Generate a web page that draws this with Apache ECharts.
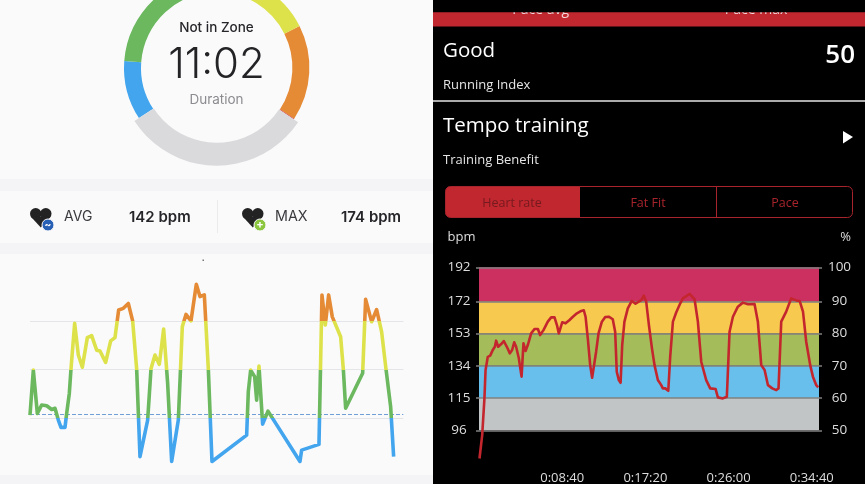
<!DOCTYPE html>
<html><head><meta charset="utf-8">
<style>html,body{margin:0;padding:0;background:#000}#c{width:865px;height:484px}</style>
<script src="https://cdn.jsdelivr.net/npm/echarts@6/dist/echarts.min.js"></script>
</head><body><div id="c"></div>
<script>
// Donut: seconds per zone, clockwise from the yellow/orange boundary
const zoneNames = ['Zone 4','Zone 5','Not in Zone','Zone 1','Zone 2','Zone 3'];
const zoneSeconds = [351,3,662,217,503,369];
const zoneColors = ['#E58B36','#CE3B3B','#DADADC','#42A5EE','#6BB85F','#DDE24A'];

// Left line chart
const leftTimes = [0,20,44,70,100,130,150,170,186,210,220,236,246,268,290,314,344,370,400,420,454,484,510,532,560,590,616,640,660,706,726,750,776,802,826,850,890,914,936,966,998,1020,1046,1070,1092,1300,1310,1324,1348,1360,1374,1396,1428,1620,1630,1734,1752,1760,1772,1792,1814,1864,1880,1894,1996,2014,2026,2050,2080,2110,2136,2164,2182];
const leftBpm = [141.8,152.9,142.2,144.3,144.1,143.2,143.5,140.6,138.8,138.8,142.2,147.2,153.2,164.4,156.6,153.6,160.9,161.4,157.8,157.6,154.8,160.1,160.9,167.7,168.1,169.3,165,153.2,131.6,140.6,153.2,156.6,154.3,163,149.6,130.4,140.6,163.6,166.6,165,174,171,171.4,153.2,130.4,136.9,147.6,152.9,151.3,145.5,153.9,139.6,142.8,130.4,133.2,134.6,171.4,171.4,164,171.4,166,161.1,153.2,143.5,152.1,170.3,170.1,164.8,167.8,162.3,153.2,143.9,131.6];
const leftZoneLines = [141,153,165];
const leftAvg = 142;

// Right line chart
const rightTimes = [3,20,34,41,55,70,86,99,107,120,139,155,174,193,207,220,232,249,266,278,291,305,326,347,368,382,403,430,451,472,487,499,520,541,566,587,612,639,655,666,680,695,707,718,732,747,768,789,811,836,851,861,874,885,895,909,930,955,978,1014,1030,1045,1062,1081,1097,1118,1139,1149,1164,1183,1195,1212,1233,1258,1274,1316,1347,1368,1389,1420,1445,1479,1493,1524,1549,1566,1587,1618,1649,1681,1722,1743,1764,1785,1806,1833,1858,1872,1889,1920,1951,1983,2004,2025,2045,2070,2087,2108,2120];
const rightBpm = [79.4,93.2,114.8,131.5,139.3,140,143.3,145.2,148.8,145.2,146.8,148.6,145.2,141.3,143.3,147.8,145.2,138.4,127.6,147.2,142.7,146.2,153.1,155.7,155.7,152.1,155,160,162.5,162.5,158,153.1,159.6,159,161,162.9,164.9,166.3,166.7,162.9,150.2,134.4,127,126,142.3,153.1,160,162.7,162.9,161.4,154.1,130.5,125.6,124,146.2,160,167.8,172.2,170.6,172.7,175.3,171.8,158,144.3,134.4,125.6,122.6,120.7,120.7,119.3,139.3,160,165.5,170.8,173.7,176.3,173.3,160,136.4,125.6,120.7,120.3,115.4,114.8,115.8,154.1,162.9,168.8,171.2,170.2,170.4,160,134.4,131.5,122.6,120.7,119.7,120.7,160,165.9,173.7,172.5,172.2,165.9,148.2,134.4,127.6,122.6,121.3];
const bpmTicks = [96,115,134,153,172,192];
const pctTicks = [50,60,70,80,90,100];
const timeTicks = [520,1040,1560,2080];
const bandColors = ['#C2C5C5','#68BFEB','#A5BC5A','#F8C94F','#CC3060'];

const fmtTime = s => { const m=Math.floor(s/60), r=s%60; return '0:'+String(m).padStart(2,'0')+':'+String(r).padStart(2,'0'); };
const zip = (a,b) => a.map((v,i)=>[v,b[i]]);
const LF = 'Inter, Roboto, sans-serif', RF = '"Open Sans", sans-serif';
const t = (text,x,y,size,color,font,align,weight,z) => ({type:'text',z:z||5,silent:true,style:{text,x,y,fontSize:size,fill:color,fontFamily:font,align:align||'center',verticalAlign:'middle',fontWeight:weight||400}});
const rect = (x,y,w,h,fill,z,r) => ({type:'rect',z:z===undefined?-5:z,silent:true,shape:{x,y,width:w,height:h,r:r||0},style:{fill}});
const plain = (cx,cy,r,fill) => ({type:'circle',z:5,silent:true,shape:{cx,cy,r},style:{fill}});
const heart = (x,y) => [plain(x+5.7,y+5.7,5.7,'#232323'),plain(x+15.8,y+5.7,5.7,'#232323'),
  {type:'polygon',z:5,silent:true,shape:{points:[[x+0.7,y+8.4],[x+20.8,y+8.4],[x+10.8,y+19.5]]},style:{fill:'#232323'}}];
const circ = (cx,cy,r,fill) => ({type:'circle',z:6,silent:true,shape:{cx,cy,r},style:{fill,stroke:'#FAFAFB',lineWidth:1}});

const graphics = [
  rect(0,0,433,484,'#FAFAFB'),
  rect(0,179,433,12,'#F4F4F6'),
  rect(0,243,433,11,'#F4F4F6'),
  rect(0,475,433,9,'#F4F4F6'),
  rect(433,0,432,484,'#000000'),
  t('Not in Zone',216.5,28,13.5,'#26262A',LF,'center',500),
  t('11:02',216.5,65.5,42,'#232326',LF,'center',300),
  t('Duration',216.5,99.5,13.5,'#8C8C90',LF),
  rect(217,200,1,33,'#EBEBED',0),
  ...heart(30,208), circ(48,225,6,'#2760B4'), t('~',48,224.5,10,'#fff',LF,'center',700,7),
  ...heart(242,208), circ(260,225,6,'#8CC63F'), t('+',260,224.5,11,'#fff',LF,'center',700,7),
  t('AVG',64,217,14,'#3A3A3E',LF,'left'),
  t('142 bpm',129,217,15,'#26262A',LF,'left',600),
  t('MAX',275,217,14.3,'#3A3A3E',LF,'left'),
  t('174 bpm',341,217,15,'#26262A',LF,'left',600),
  rect(202.5,259.5,1.5,1.5,'#777',1),

  rect(433,12,432,14.5,'#C0272F',1),
  t('Pace avg',540.7,10.5,14,'#F3D9DA',RF,'center',400,2),
  t('Pace max',756,10.5,14,'#F3D9DA',RF,'center',400,2),
  rect(433,0,432,12.3,'#000000',3),
  t('Good',443,51,20.5,'#FFFFFF',RF,'left'),
  t('50',855,56,26,'#FFFFFF',RF,'right',600),
  t('Running Index',443,85.5,13,'#E4E4E4',RF,'left'),
  rect(433,100,432,2,'#ABABAB',1),
  t('Tempo training',443,126.5,20.5,'#FFFFFF',RF,'left'),
  t('Training Benefit',443,160,13,'#E4E4E4',RF,'left'),
  {type:'polygon',z:5,silent:true,shape:{points:[[843,131],[853,137],[843,143.5]]},style:{fill:'#fff'}},
  {type:'rect',z:2,silent:true,shape:{x:445.5,y:186.5,width:134.5,height:31,r:[5,0,0,5]},style:{fill:'#C0272F'}},
  {type:'rect',z:3,silent:true,shape:{x:445.5,y:186.5,width:407,height:31,r:5},style:{fill:'none',stroke:'#A8242C',lineWidth:1}},
  rect(716,187,1,30,'#A8242C',3),
  t('Heart rate',512,203.5,12.5,'#751A1E',RF),
  t('Fat Fit',648,203.5,12.5,'#A8242C',RF),
  t('Pace',785,203.5,12.5,'#A8242C',RF),
  t('bpm',447.5,237,13,'#DDDDDD',RF,'left'),
  t('%',845.5,237,13,'#DDDDDD',RF)
];

const pieBase = {type:'pie',center:[216.7,67.7],startAngle:26.7,silent:true,label:{show:false},labelLine:{show:false},animation:false,z:3,emphasis:{disabled:true}};
const option = {
  animation:false,
  backgroundColor:'transparent',
  graphic:{elements:graphics},
  grid:[
    {left:30,width:373.3,top:260,height:223.4,outerBoundsMode:'none'},
    {left:479,width:340,top:267.3,height:193.6,outerBoundsMode:'none'}
  ],
  xAxis:[
    {gridIndex:0,type:'value',min:0,max:2240,show:false},
    {gridIndex:1,type:'value',min:0,max:2125,axisLine:{show:false},axisTick:{show:false},splitLine:{show:false},
      axisLabel:{customValues:timeTicks,formatter:fmtTime,color:'#DDDDDD',fontFamily:RF,fontSize:13,margin:11}}
  ],
  yAxis:[
    {gridIndex:0,type:'value',min:125,max:180,show:false},
    {gridIndex:1,type:'value',min:78,max:192,position:'left',axisLine:{show:false},splitLine:{show:false},
      axisTick:{show:true,customValues:bpmTicks,length:3,lineStyle:{color:'#808080',width:1.5}},
      axisLabel:{customValues:bpmTicks,color:'#DDDDDD',fontFamily:RF,fontSize:13.5,align:'center',margin:20,padding:[2,0,0,0]}},
    {gridIndex:1,type:'value',min:78,max:192,position:'right',axisLine:{show:false},splitLine:{show:false},
      axisTick:{show:true,customValues:bpmTicks,length:3,lineStyle:{color:'#808080',width:1.5}},
      axisLabel:{customValues:bpmTicks,formatter:v=>String(pctTicks[bpmTicks.indexOf(v)]),color:'#DDDDDD',fontFamily:RF,fontSize:13.5,align:'center',margin:20.5,padding:[2,0,0,0]}}
  ],
  visualMap:[{type:'piecewise',show:false,seriesIndex:2,dimension:1,
    pieces:[{lt:141,color:'#42A5EE'},{gte:141,lt:153,color:'#6BB85F'},{gte:153,lt:165,color:'#DDE24A'},{gte:165,color:'#E58B36'}]}],
  series:[
    {...pieBase,radius:[75.7,92.7],data:zoneNames.map((n,i)=>({name:n,value:zoneSeconds[i],itemStyle:{color:n==='Not in Zone'?'rgba(0,0,0,0)':zoneColors[i]}}))},
    {...pieBase,radius:[75,98],data:zoneNames.map((n,i)=>({name:n,value:zoneSeconds[i],itemStyle:{color:n==='Not in Zone'?zoneColors[i]:'rgba(0,0,0,0)'}}))},
    {type:'line',xAxisIndex:0,yAxisIndex:0,z:4,silent:true,symbol:'none',clip:false,lineStyle:{width:3.6,join:'round'},data:zip(leftTimes,leftBpm),
      markLine:{silent:true,symbol:'none',animation:false,z:1,label:{show:false},data:[
        ...leftZoneLines.map(v=>({yAxis:v,lineStyle:{color:'#E4E5E9',width:1,type:'solid'}})),
        {yAxis:leftAvg,lineStyle:{color:'#6F9FD6',width:1,type:'dashed'}}]}},
    {type:'line',xAxisIndex:1,yAxisIndex:1,z:1,silent:true,symbol:'none',data:[],
      markArea:{silent:true,animation:false,label:{show:false},data:bandColors.map((c,i)=>[{yAxis:bpmTicks[i],itemStyle:{color:c,opacity:1}},{yAxis:bpmTicks[i+1]}])},
      markLine:{silent:true,symbol:'none',animation:false,label:{show:false},lineStyle:{color:'#808080',width:1.5,type:'solid'},data:bpmTicks.map(v=>({yAxis:v}))}},
    {type:'line',xAxisIndex:1,yAxisIndex:1,z:6,silent:true,symbol:'none',clip:false,lineStyle:{color:'#C4262E',width:2.6,join:'round'},data:zip(rightTimes,rightBpm)}
  ]
};
echarts.init(document.getElementById('c'),null,{renderer:'canvas'}).setOption(option);
</script></body></html>
